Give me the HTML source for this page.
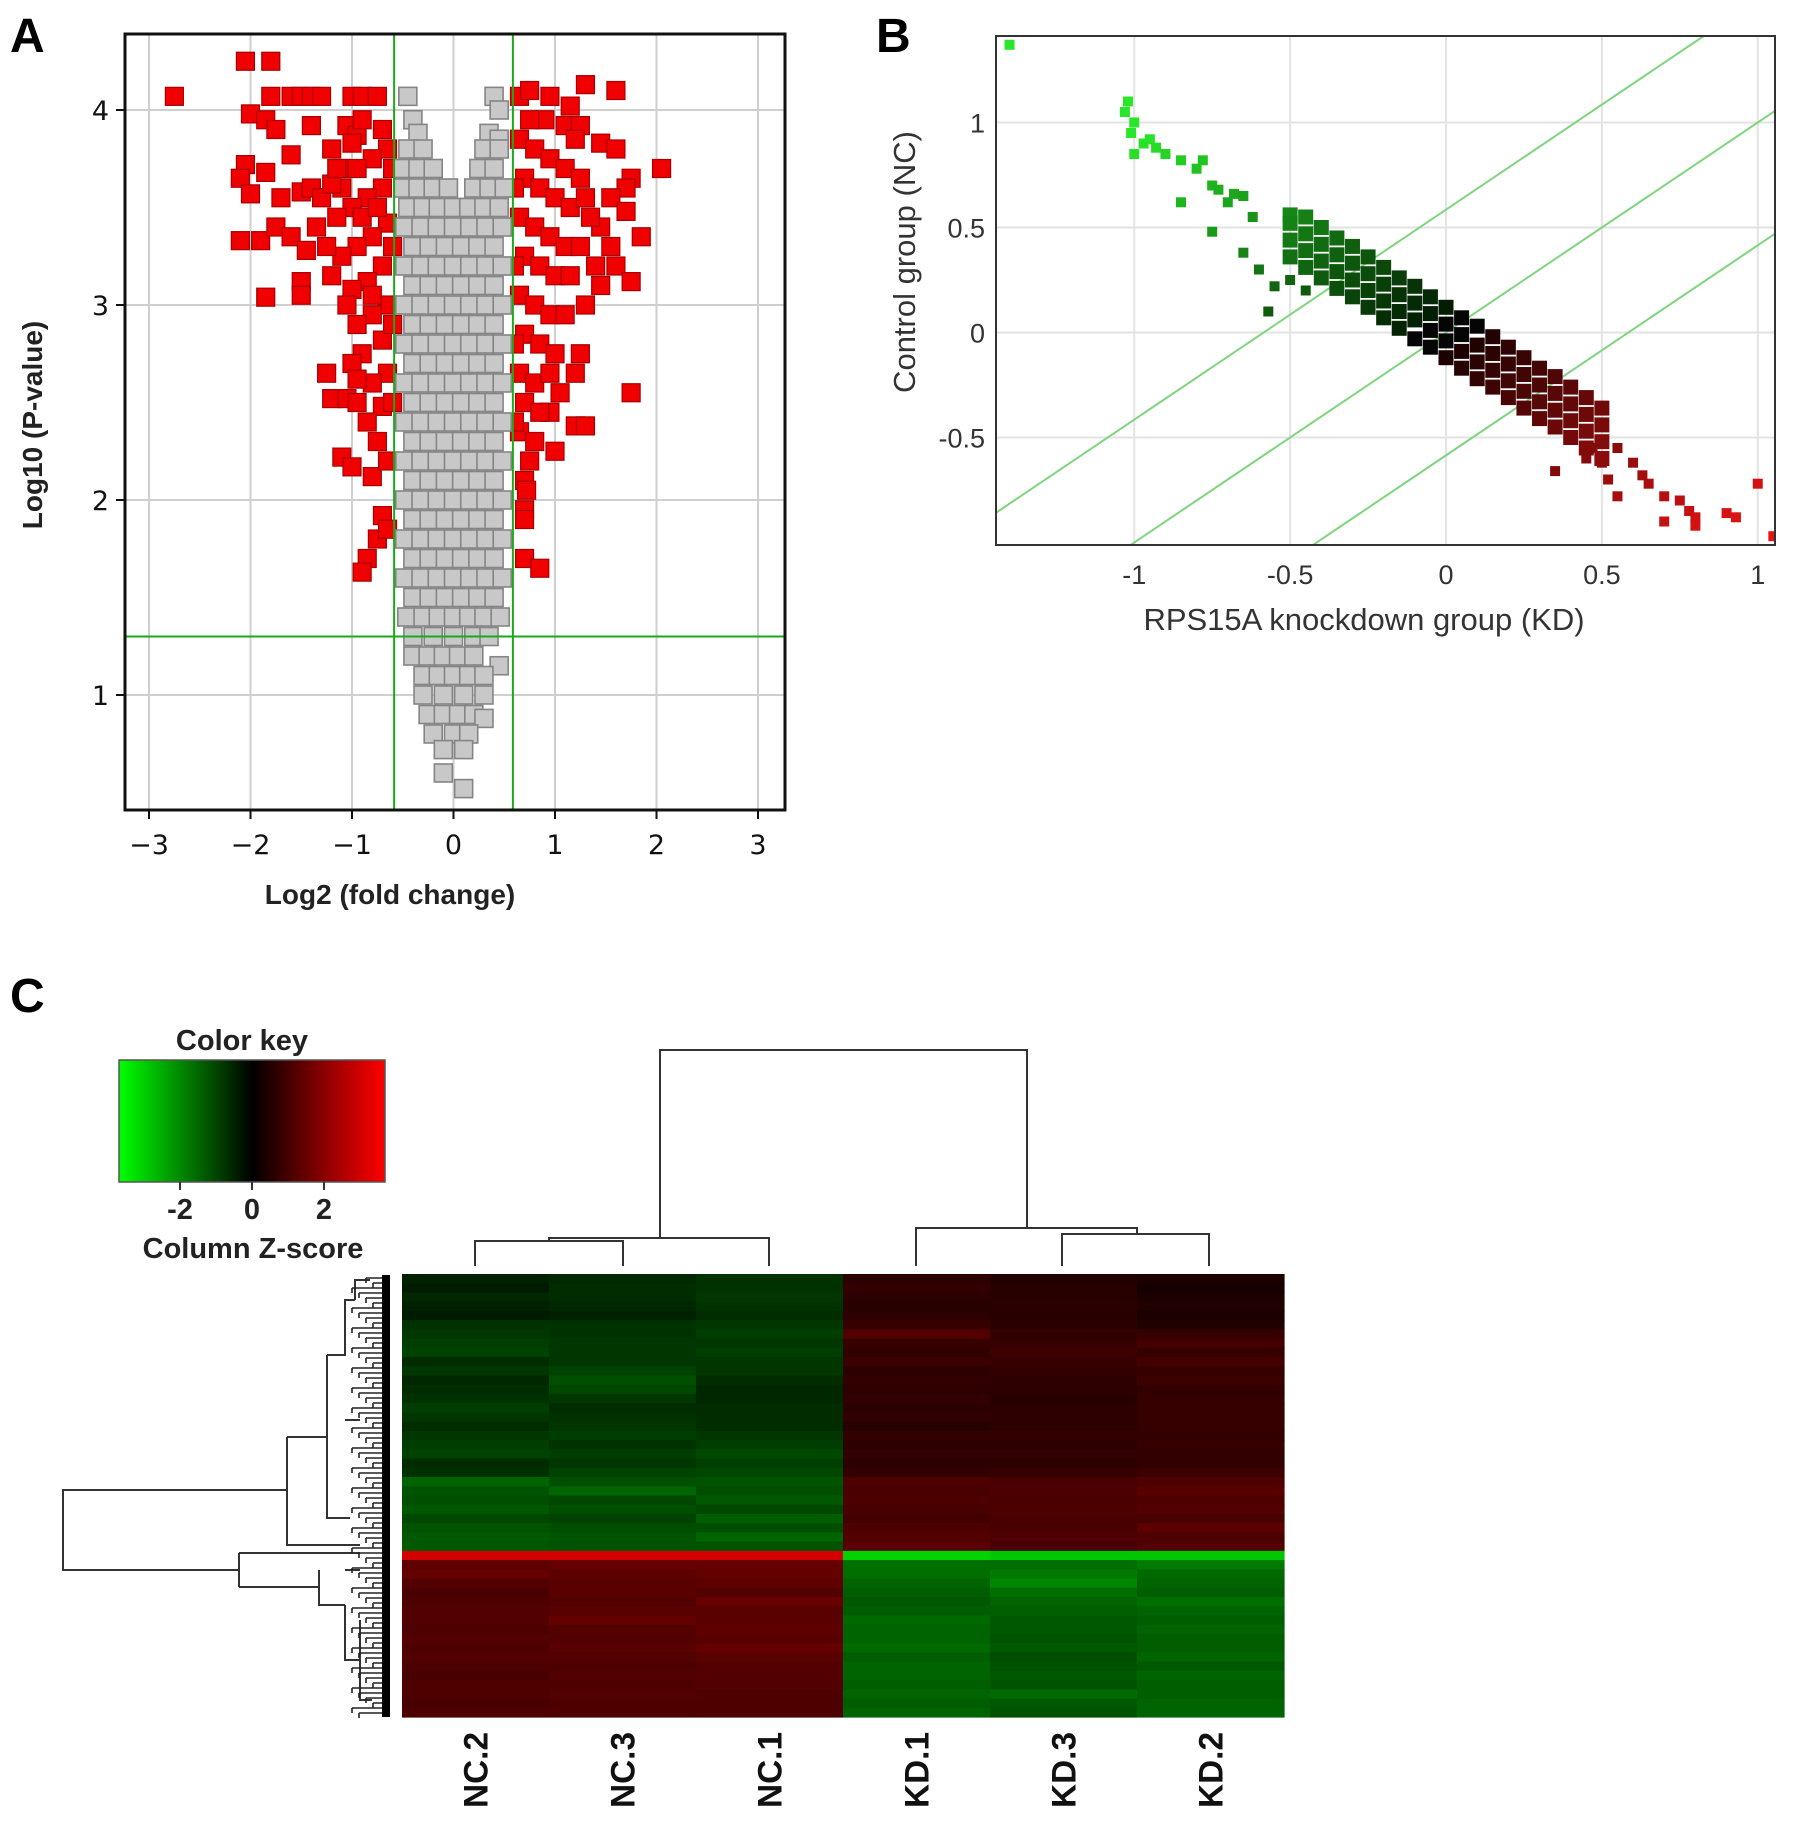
<!DOCTYPE html>
<html><head><meta charset="utf-8"><style>
html,body{margin:0;padding:0;background:#fff;}
svg{display:block;font-family:"Liberation Sans","DejaVu Sans",sans-serif;}
</style></head><body>
<svg id="fig" width="1795" height="1824" viewBox="0 0 1795 1824" xmlns="http://www.w3.org/2000/svg">
<text x="10" y="52" font-size="48" font-weight="bold">A</text>
<text x="876" y="52" font-size="48" font-weight="bold">B</text>
<text x="10" y="1012" font-size="48" font-weight="bold">C</text>
<g id="gA"></g>
<g id="gB"></g>
<g id="gC"></g>
</svg>
<script>
// ---------- Panel A data ----------
const aXTicks=[-3,-2,-1,0,1,2,3];
const aYTicks=[1,2,3,4];
const redX=[-2.75,-2.05,-1.8,-2.0,-1.8,-1.85,-1.75,-1.6,-1.5,-1.4,-1.3,-1.0,-0.9,-0.75,-1.4,-1.05,-0.95,-2.05,-2.1,-1.85,-1.6,-2.0,-1.7,-1.5,-1.4,-1.3,-1.2,-1.1,-2.1,-1.9,-1.75,-1.6,-1.45,-1.35,-1.5,-1.5,-1.85,-1.25,-1.2,-1.05,-0.95,-1.1,-1.0,-0.8,-0.7,-0.75,-0.85,-0.9,-0.65,
-0.65,-0.8,-0.95,-0.7,-0.85,-1.0,-1.15,-0.65,-0.8,-0.95,-1.1,-1.25,-0.7,-0.85,-1.0,-0.65,-0.8,-0.95,-1.05,-0.7,-0.9,-1.0,-0.65,-0.8,-0.95,-0.7,-0.85,-0.75,-0.65,-0.7,-0.6,-0.6,-0.6,-0.6,-1.1,-1.2,-0.9,-0.75,-0.9,-1.0,-1.15,-0.8,-1.2,
0.65,0.75,0.95,1.15,1.3,1.6,0.9,1.1,1.25,1.45,1.6,2.05,1.75,1.7,1.55,1.7,1.45,1.85,1.55,1.6,1.75,1.45,1.3,1.25,1.2,1.75,1.05,0.95,1.2,1.3,1.0,0.75,0.7,0.7,0.7,0.7,0.85,0.72,
0.65,0.8,0.95,1.1,1.25,0.7,0.85,1.0,1.15,1.3,0.65,0.8,0.95,1.1,1.25,0.7,0.85,1.0,1.15,0.65,0.8,0.95,1.1,0.7,0.85,1.0,0.65,0.8,0.95,0.7,0.85,0.65,0.8,0.6,0.6,0.6,0.6,1.35,1.4,1.2,0.75];
const redY=[4.07,4.25,4.25,3.98,4.07,3.95,3.9,4.07,4.07,4.07,4.07,4.07,4.07,4.07,3.92,3.92,3.87,3.72,3.65,3.68,3.77,3.57,3.55,3.58,3.6,3.55,3.8,3.7,3.33,3.33,3.4,3.35,3.28,3.4,3.12,3.05,3.04,2.65,2.52,2.52,2.5,2.22,2.17,2.12,1.92,1.8,1.7,1.63,1.85,
3.8,3.75,3.7,3.6,3.55,3.5,3.45,3.42,3.35,3.3,3.25,3.3,3.2,3.12,3.08,3.0,2.95,2.9,3.0,2.82,2.75,2.7,2.65,2.6,2.62,2.48,2.4,2.3,2.2,3.9,3.7,3.3,2.9,2.5,3.6,3.62,3.45,3.5,3.95,3.83,3.7,3.05,3.15,
4.07,4.1,4.07,4.02,4.13,4.1,3.95,3.92,3.92,3.83,3.8,3.7,3.65,3.6,3.55,3.48,3.4,3.35,3.3,3.2,3.12,3.1,3.0,2.75,2.65,2.55,2.55,2.45,2.38,2.38,2.25,2.2,2.1,1.95,1.9,1.7,1.65,2.05,
3.85,3.8,3.75,3.7,3.65,3.65,3.6,3.55,3.5,3.55,3.45,3.4,3.35,3.3,3.3,3.25,3.2,3.15,3.15,3.05,3.0,2.95,2.95,2.85,2.8,2.75,2.65,2.6,2.65,2.5,2.45,2.35,2.3,3.6,3.2,2.8,2.4,3.45,3.2,3.85,3.95];
const grayX=[-0.45,0.4,-0.4,0.45,-0.35,0.35,0.45,-0.45,-0.3,0.3,0.45,-0.5,-0.35,-0.2,0.25,0.4,-0.5,-0.35,-0.2,-0.05,0.2,0.35,0.5,-0.45,-0.3,-0.15,0,0.15,0.3,0.45,
-0.48,-0.32,-0.16,0,0.16,0.32,0.48, -0.4,-0.24,-0.08,0.08,0.24,0.4, -0.48,-0.32,-0.16,0,0.16,0.32,0.48, -0.4,-0.24,-0.08,0.08,0.24,0.4,
-0.48,-0.32,-0.16,0,0.16,0.32,0.48, -0.4,-0.24,-0.08,0.08,0.24,0.4, -0.48,-0.32,-0.16,0,0.16,0.32,0.48, -0.4,-0.24,-0.08,0.08,0.24,0.4,
-0.48,-0.32,-0.16,0,0.16,0.32,0.48, -0.4,-0.24,-0.08,0.08,0.24,0.4, -0.48,-0.32,-0.16,0,0.16,0.32,0.48, -0.4,-0.24,-0.08,0.08,0.24,0.4,
-0.48,-0.32,-0.16,0,0.16,0.32,0.48, -0.4,-0.24,-0.08,0.08,0.24,0.4, -0.48,-0.32,-0.16,0,0.16,0.32,0.48, -0.4,-0.24,-0.08,0.08,0.24,0.4,
-0.48,-0.32,-0.16,0,0.16,0.32,0.48, -0.4,-0.24,-0.08,0.08,0.24,0.4, -0.48,-0.32,-0.16,0,0.16,0.32,0.48, -0.4,-0.24,-0.08,0.08,0.24,0.4,
-0.46,-0.3,-0.15,0,0.15,0.3,0.46,
-0.4,-0.2,0,0.2,0.35, -0.4,-0.25,-0.1,0.05,0.2,0.45, -0.3,-0.15,0,0.15,0.3, -0.3,-0.1,0.1,0.3, -0.25,-0.1,0.05,0.2,0.3, -0.2,0,0.15, -0.1,0.1, -0.1, 0.1];
const grayY=[4.07,4.07,3.95,4.0,3.88,3.88,3.85,3.8,3.8,3.8,3.8,3.7,3.7,3.7,3.7,3.7,3.6,3.6,3.6,3.6,3.6,3.6,3.6,3.5,3.5,3.5,3.5,3.5,3.5,3.5,
3.4,3.4,3.4,3.4,3.4,3.4,3.4, 3.3,3.3,3.3,3.3,3.3,3.3, 3.2,3.2,3.2,3.2,3.2,3.2,3.2, 3.1,3.1,3.1,3.1,3.1,3.1,
3.0,3.0,3.0,3.0,3.0,3.0,3.0, 2.9,2.9,2.9,2.9,2.9,2.9, 2.8,2.8,2.8,2.8,2.8,2.8,2.8, 2.7,2.7,2.7,2.7,2.7,2.7,
2.6,2.6,2.6,2.6,2.6,2.6,2.6, 2.5,2.5,2.5,2.5,2.5,2.5, 2.4,2.4,2.4,2.4,2.4,2.4,2.4, 2.3,2.3,2.3,2.3,2.3,2.3,
2.2,2.2,2.2,2.2,2.2,2.2,2.2, 2.1,2.1,2.1,2.1,2.1,2.1, 2.0,2.0,2.0,2.0,2.0,2.0,2.0, 1.9,1.9,1.9,1.9,1.9,1.9,
1.8,1.8,1.8,1.8,1.8,1.8,1.8, 1.7,1.7,1.7,1.7,1.7,1.7, 1.6,1.6,1.6,1.6,1.6,1.6,1.6, 1.5,1.5,1.5,1.5,1.5,1.5,
1.4,1.4,1.4,1.4,1.4,1.4,1.4,
1.3,1.3,1.3,1.3,1.3, 1.2,1.2,1.2,1.2,1.2,1.15, 1.1,1.1,1.1,1.1,1.1, 1.0,1.0,1.0,1.0, 0.9,0.9,0.9,0.9,0.88, 0.8,0.8,0.8, 0.72,0.72, 0.6, 0.52];
const aThreshX=[-0.585,0.585];
const aThreshY=[1.3];

// ---------- Panel B data ----------
const bXTicks=[-1,-0.5,0,0.5,1];
const bYTicks=[-0.5,0,0.5,1];
const bDiagOffsets=[0.585,0,-0.585];
const kdX=[-1.4,-1.02,-1.03,-1.0,-1.01,-0.97,-1.0,-0.95,-0.93,-0.9,-0.85,-0.8,-0.78,-0.75,-0.73,-0.68,-0.65,-0.7,-0.85,-0.62,-0.75,-0.65,-0.6,-0.55,-0.57,-0.45,-0.5,
0.5,0.55,0.6,0.63,0.65,0.7,0.75,0.78,0.8,0.8,0.9,0.93,1.0,1.05,0.55,0.52,0.45,0.35,0.7,0.47,
-0.5,-0.5,-0.5,-0.5,-0.45,-0.45,-0.45,-0.45,-0.4,-0.4,-0.4,-0.4,-0.35,-0.35,-0.35,-0.35,-0.3,-0.3,-0.3,-0.3,-0.25,-0.25,-0.25,-0.25,-0.2,-0.2,-0.2,-0.2,-0.15,-0.15,-0.15,-0.15,-0.1,-0.1,-0.1,-0.1,-0.05,-0.05,-0.05,-0.05,0,0,0,0,
0.05,0.05,0.05,0.05,0.1,0.1,0.1,0.1,0.15,0.15,0.15,0.15,0.2,0.2,0.2,0.2,0.25,0.25,0.25,0.25,0.3,0.3,0.3,0.3,0.35,0.35,0.35,0.35,0.4,0.4,0.4,0.4,0.45,0.45,0.45,0.45,0.5,0.5,0.5,0.5];
const ncY=[1.37,1.1,1.05,1.0,0.95,0.9,0.85,0.92,0.88,0.85,0.82,0.78,0.82,0.7,0.68,0.66,0.65,0.62,0.62,0.55,0.48,0.38,0.3,0.22,0.1,0.2,0.25,
-0.62,-0.55,-0.62,-0.68,-0.72,-0.78,-0.8,-0.85,-0.88,-0.92,-0.86,-0.88,-0.72,-0.97,-0.78,-0.7,-0.6,-0.66,-0.9,-0.55,
0.56,0.52,0.44,0.36,0.55,0.47,0.39,0.31,0.5,0.42,0.34,0.26,0.45,0.37,0.29,0.21,0.41,0.33,0.25,0.17,0.36,0.28,0.2,0.12,0.31,0.23,0.15,0.07,0.26,0.18,0.1,0.02,0.22,0.14,0.06,-0.03,0.17,0.09,0.01,-0.07,0.12,0.04,-0.04,-0.12,
0.07,-0.01,-0.09,-0.17,0.03,-0.06,-0.14,-0.22,-0.02,-0.1,-0.18,-0.26,-0.07,-0.15,-0.23,-0.31,-0.12,-0.2,-0.28,-0.36,-0.17,-0.25,-0.33,-0.41,-0.21,-0.29,-0.37,-0.45,-0.26,-0.34,-0.42,-0.5,-0.31,-0.39,-0.47,-0.55,-0.36,-0.44,-0.52,-0.6];

// ---------- Panel C data ----------
const samples=["NC.2","NC.3","NC.1","KD.1","KD.3","KD.2"];
const keyTicks=[-2,0,2];
const zRows=[
[-0.6,-0.7,-0.9,0.8,0.6,0.5],[-0.5,-0.8,-0.9,0.9,0.7,0.4],[-0.7,-0.8,-1.0,0.8,0.7,0.5],[-0.6,-0.7,-0.9,0.7,0.8,0.6],[-0.5,-0.6,-0.8,0.8,0.7,0.5],
[-0.9,-0.9,-1.0,1.0,0.8,0.6],[-1.0,-0.9,-1.1,1.5,0.9,1.0],[-1.1,-1.0,-1.0,1.0,1.0,1.2],[-1.2,-1.0,-1.1,0.9,1.1,1.0],[-0.8,-1.0,-1.0,1.1,1.0,1.2],
[-1.0,-1.2,-1.0,0.8,0.9,1.0],[-0.7,-1.4,-0.8,0.9,0.8,1.1],[-0.8,-1.3,-0.7,0.8,0.8,0.9],[-0.9,-1.0,-0.7,0.9,0.7,1.0],[-1.1,-0.8,-0.8,0.8,0.8,1.0],
[-1.0,-0.9,-0.8,0.9,0.8,1.0],[-0.8,-1.0,-0.8,0.7,0.8,1.0],[-1.0,-1.1,-1.0,0.9,0.9,0.9],[-1.1,-0.9,-1.1,0.8,0.8,1.0],[-1.2,-1.1,-1.3,0.9,0.9,0.9],
[-0.8,-1.0,-1.1,0.8,0.8,0.9],[-0.9,-1.2,-1.3,0.9,1.0,1.1],[-1.8,-1.4,-1.5,1.4,1.3,1.4],[-1.5,-1.8,-1.4,1.3,1.4,1.6],[-1.4,-1.3,-1.6,1.4,1.3,1.4],
[-1.6,-1.4,-1.3,1.3,1.4,1.5],[-1.3,-1.2,-1.7,1.2,1.3,1.3],[-1.5,-1.4,-1.4,1.4,1.3,1.7],[-1.6,-1.5,-1.8,1.5,1.4,1.4],[-1.6,-1.5,-1.5,1.6,1.3,1.5],
[3.8,3.8,3.8,-3.8,-3.6,-3.6],[1.7,1.8,1.8,-2.0,-2.0,-2.2],[1.8,1.7,1.8,-2.0,-2.2,-1.9],[1.5,1.6,1.7,-1.8,-2.4,-1.8],[1.3,1.6,1.5,-1.7,-2.0,-1.7],
[1.4,1.5,1.9,-1.6,-1.8,-2.0],[1.5,1.6,1.6,-1.7,-1.7,-1.8],[1.5,1.8,1.6,-1.9,-1.6,-1.7],[1.4,1.5,1.7,-1.8,-1.6,-1.8],[1.5,1.5,1.6,-1.8,-1.5,-1.7],
[1.4,1.6,1.8,-1.9,-1.6,-1.7],[1.5,1.5,1.6,-1.7,-1.4,-1.8],[1.4,1.4,1.5,-1.8,-1.5,-1.6],[1.3,1.5,1.5,-1.8,-1.6,-1.8],[1.4,1.4,1.5,-1.7,-1.5,-1.7],
[1.4,1.5,1.4,-1.8,-1.9,-1.7],[1.3,1.4,1.4,-1.7,-1.6,-1.8],[1.4,1.4,1.4,-1.8,-1.5,-1.8]];

const NS="http://www.w3.org/2000/svg";
function mk(parent,tag,attrs,text){const e=document.createElementNS(NS,tag);for(const k in attrs)e.setAttribute(k,attrs[k]);if(text!==undefined)e.textContent=text;parent.appendChild(e);return e;}

// ================= Panel A =================
(function(){
const g=document.getElementById('gA');
const L=125,R=785,T=34,B=810;
const sx=v=>453.5+v*101.5;
const sy=v=>110+(4-v)*195;
aXTicks.forEach(t=>{
  const l=mk(g,'line',{x1:sx(t),x2:sx(t),y1:T,y2:B,stroke:'#cfcfcf','stroke-width':2});
  
  
  const tk=mk(g,'line',{x1:sx(t),x2:sx(t),y1:B,y2:B+9,stroke:'#111','stroke-width':2});
  
  
  const tx=mk(g,'text',{x:sx(t),y:B+44,'font-size':27,'text-anchor':'middle',fill:'#111','font-family':'"DejaVu Sans",sans-serif'},t<0?'\u2212'+(-t):String(t));
  
  
});
aYTicks.forEach(t=>{
  const l=mk(g,'line',{x1:L,x2:R,y1:sy(t),y2:sy(t),stroke:'#cfcfcf','stroke-width':2});
  
  
  const tk=mk(g,'line',{x1:L-9,x2:L,y1:sy(t),y2:sy(t),stroke:'#111','stroke-width':2});
  
  
  const tx=mk(g,'text',{x:L-16,y:sy(t)+10,'font-size':27,'text-anchor':'end',fill:'#111','font-family':'"DejaVu Sans",sans-serif'},String(t));
  
  
});
const S=18;
redX.forEach((x,i)=>{
  const r=mk(g,'rect',{x:sx(x)-S/2,y:sy(redY[i])-S/2,width:S,height:S,fill:'#f00000',stroke:'#a80000','stroke-width':1.2});
  
  
});
grayX.forEach((x,i)=>{
  const r=mk(g,'rect',{x:sx(x)-S/2,y:sy(grayY[i])-S/2,width:S,height:S,fill:'#c8c8c8',stroke:'#858585','stroke-width':1.6});
  
  
});
aThreshX.forEach(v=>{
  const l=mk(g,'line',{x1:sx(v),x2:sx(v),y1:T,y2:B,stroke:'#1aaa1a','stroke-width':2});
  
  
});
aThreshY.forEach(v=>{
  const l=mk(g,'line',{x1:L,x2:R,y1:sy(v),y2:sy(v),stroke:'#1aaa1a','stroke-width':2});
  
  
});
const fr=mk(g,'rect',{x:L,y:T,width:R-L,height:B-T,fill:'none',stroke:'#111','stroke-width':3});


const xt=mk(g,'text',{x:390,y:904,'font-size':28,'font-weight':'bold','text-anchor':'middle',fill:'#222'},'Log2 (fold change)');


const yt=mk(g,'text',{x:0,y:0,'font-size':28,'font-weight':'bold','text-anchor':'middle',fill:'#222',transform:'translate(42,425) rotate(-90)'},'Log10 (P-value)');


})();

// ================= Panel B =================
(function(){
const g=document.getElementById('gB');
const L=996,R=1775,T=36,B=545;
const sx=v=>1446+v*311.75;
const sy=v=>332.5-v*210;
const cp=mk(g,'clipPath',{id:'clipB'});mk(cp,'rect',{x:L,y:T,width:R-L,height:B-T});
bXTicks.forEach(t=>{
  const l=mk(g,'line',{x1:sx(t),x2:sx(t),y1:T,y2:B,stroke:'#e3e3e3','stroke-width':2});
  
  
  const tx=mk(g,'text',{x:sx(t),y:584,'font-size':27,'text-anchor':'middle',fill:'#333'},String(t));
  
  
});
bYTicks.forEach(t=>{
  const l=mk(g,'line',{x1:L,x2:R,y1:sy(t),y2:sy(t),stroke:'#e3e3e3','stroke-width':2});
  
  
  const tx=mk(g,'text',{x:985,y:sy(t)+10,'font-size':27,'text-anchor':'end',fill:'#333'},String(t));
  
  
});
const dg=mk(g,'g',{'clip-path':'url(#clipB)'});
const pg=mk(g,'g',{'clip-path':'url(#clipB)'});
kdX.forEach((x,i)=>{
  const y=ncY[i];
  const v=(x-y)/2;
  const a=Math.min(1,Math.abs(v)/0.95);
  const c=Math.round(15+a*215);
  const col=v<0?`rgb(${Math.round(a*40)},${c},${Math.round(a*40)})`:`rgb(${c},${Math.round(a*20)},${Math.round(a*20)})`;
  const fill=Math.abs(v)<0.05?'#050505':col;
  const sz=i<47?10:15;
  const r=mk(pg,'rect',{x:sx(x)-sz/2,y:sy(y)-sz/2,width:sz,height:sz,fill:fill});
  
  
});
bDiagOffsets.forEach(o=>{
  const l=mk(dg,'line',{x1:sx(-1.6),y1:sy(-1.6+o),x2:sx(1.2),y2:sy(1.2+o),stroke:'#7fd47f','stroke-width':2});
  
  
});
const fr=mk(g,'rect',{x:L,y:T,width:R-L,height:B-T,fill:'none',stroke:'#333','stroke-width':2});


const xt=mk(g,'text',{x:1364,y:630,'font-size':31,'text-anchor':'middle',fill:'#333'},'RPS15A knockdown group (KD)');


const yt=mk(g,'text',{x:0,y:0,'font-size':31,'text-anchor':'middle',fill:'#333',transform:'translate(915,262) rotate(-90)'},'Control group (NC)');


})();

// ================= Panel C =================
(function(){
const g=document.getElementById('gC');
function zcol(z){const a=Math.max(-1,Math.min(1,z/4.6));const c=Math.round(Math.abs(a)*255);return a<0?`rgb(0,${c},0)`:`rgb(${c},0,0)`;}
const defs=mk(g,'defs',{});
const lg=mk(defs,'linearGradient',{id:'keyGrad',x1:0,x2:1,y1:0,y2:0});
mk(lg,'stop',{offset:'0','stop-color':'#00ff00'});mk(lg,'stop',{offset:'0.5','stop-color':'#000'});mk(lg,'stop',{offset:'1','stop-color':'#ff0000'});
const kx=v=>252+v*36;
const kr=mk(g,'rect',{x:119,y:1060,width:266,height:122,fill:'url(#keyGrad)',stroke:'#555','stroke-width':1.5});


const kt=mk(g,'text',{x:242,y:1050,'font-size':29,'font-weight':'bold','text-anchor':'middle',fill:'#222'},'Color key');


keyTicks.forEach(t=>{
  const l=mk(g,'line',{x1:kx(t),x2:kx(t),y1:1182,y2:1190,stroke:'#333','stroke-width':2});
  
  
  const tx=mk(g,'text',{x:kx(t),y:1219,'font-size':29,'font-weight':'bold','text-anchor':'middle',fill:'#222'},String(t));
  
  
});
const zt=mk(g,'text',{x:253,y:1258,'font-size':29,'font-weight':'bold','text-anchor':'middle',fill:'#222'},'Column Z-score');


const HL=402,HT=1274,HB=1717,CW=147;
const rh=(HB-HT)/zRows.length;
zRows.forEach((row,ri)=>{
  row.forEach((z,ci)=>{
    const c=mk(g,'rect',{x:HL+ci*CW,y:HT+ri*rh,width:CW+0.6,height:rh+0.6,fill:zcol(z)});
    
    
  });
});
samples.forEach((s,i)=>{
  const cx=HL+CW*i+CW/2;
  const t=mk(g,'text',{x:0,y:0,'font-size':34,'font-weight':'bold','text-anchor':'end',fill:'#111',textLength:76,lengthAdjust:'spacingAndGlyphs',transform:`translate(${cx+12},1732) rotate(-90)`},s);
  
  
});
const st={stroke:'#333','stroke-width':2,fill:'none'};
const cd=mk(g,'path',Object.assign({d:'M475,1266V1241H623V1266 M549,1241V1238H769V1266 M660,1238V1050H1027V1228 M1062,1266V1234H1209V1266 M916,1266V1228H1137V1234'},st));


const rd=mk(g,'path',Object.assign({d:'M287,1490H63V1570H239 M287,1437V1545H360 M287,1437H327 M327,1355V1518H350 M327,1355H345V1300H355 M345,1420H360 M355,1300V1280H370 M239,1553V1587 M239,1553H360 M239,1587H319 M319,1570V1605H345 M345,1570H360 M345,1605V1660H360 M360,1620V1700H372'},st));


const leaves=mk(g,'g',{});


for(let y=1278;y<1716;y+=5){
  const x0=352+((y*7)%28);
  mk(leaves,'path',{d:`M${x0},${y}H386 M${x0},${y}V${y+5}`,stroke:'#222','stroke-width':1.6,fill:'none'});
}
const bar=mk(g,'rect',{x:382,y:1275,width:8,height:442,fill:'#000'});


})();
</script>
</body></html>
